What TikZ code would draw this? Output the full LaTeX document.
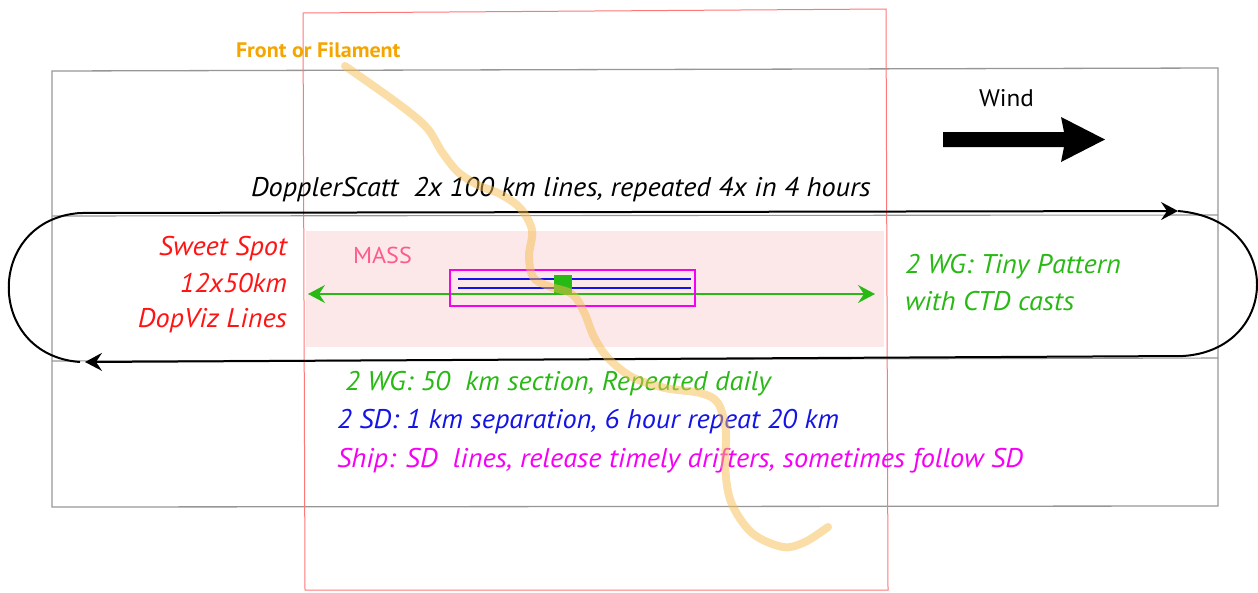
\documentclass[tikz,border=0pt]{standalone}
\usepackage{fontspec}
\setmainfont{PT Sans}[FakeStretch=1.05]
\usetikzlibrary{arrows.meta}
\definecolor{frame}{RGB}{150,150,150}
\definecolor{redframe}{RGB}{255,120,120}
\definecolor{masspink}{RGB}{252,232,232}
\definecolor{masstext}{RGB}{255,90,140}
\definecolor{wggreen}{RGB}{40,185,20}
\definecolor{sdblue}{RGB}{20,20,230}
\definecolor{shipmag}{RGB}{245,0,245}
\definecolor{ssred}{RGB}{255,20,20}
\definecolor{frontorange}{RGB}{245,165,0}
\definecolor{frontline}{RGB}{247,190,80}
\tikzset{
  lbl/.style={inner sep=0pt, outer sep=0pt, font=\fontsize{27}{30}\selectfont\itshape},
  loopline/.style={draw=black, line width=2pt},
  looptip/.style={-{Stealth[length=17pt,width=18pt,inset=6pt]}},
  wgline/.style={draw=wggreen, line width=1.6pt, {Stealth[length=17pt,width=18pt,inset=6pt]}-{Stealth[length=17pt,width=18pt,inset=6pt]}}
}
\begin{document}
\begin{tikzpicture}[x=1pt,y=-1pt]
\useasboundingbox (0,0) rectangle (1258,592);
% MASS region
\fill[masspink] (306,231) rectangle (884,347);
% gray frame
\draw[frame, line width=1.3pt] (52,71) -- (1218,68) -- (1218,506) -- (52,507) -- cycle;
\draw[frame, line width=1.1pt] (52,216) -- (1218,215);
\draw[frame, line width=1.1pt] (52,361) -- (1218,358);
% red frame
\draw[redframe, line width=1pt] (303,13) -- (886,9) -- (888,590) -- (305,590) -- cycle;
% labels
\node[lbl, font=\fontsize{21}{24}\selectfont\bfseries, text=frontorange, anchor=base west] (front) at (236,57) {Front or Filament};
\node[lbl, font=\fontsize{24}{30}\selectfont, text=black, anchor=base west] (wind) at (979,106) {Wind};
\node[lbl, font=\fontsize{23}{30}\selectfont, text=masstext, anchor=base west] (mass) at (353,263) {MASS};
\node[lbl, text=black, anchor=base west] (dopp) at (251,196) {DopplerScatt\ \ 2x 100 km lines, repeated 4x in 4 hours};
\node[lbl, text=ssred, anchor=base east] (ss1) at (287,255) {Sweet Spot};
\node[lbl, text=ssred, anchor=base east] (ss2) at (287,292) {12x50km};
\node[lbl, text=ssred, anchor=base east] (ss3) at (287,327) {DopViz Lines};
\node[lbl, text=wggreen, anchor=base west] (tiny1) at (905,273) {2 WG: Tiny Pattern};
\node[lbl, text=wggreen, anchor=base west] (tiny2) at (905,310) {with CTD casts};
\node[lbl, text=wggreen, anchor=base west] (wg) at (345,390) {2 WG: 50\ \ km section, Repeated daily};
\node[lbl, text=sdblue, anchor=base west] (sd) at (337,428) {2 SD: 1 km separation, 6 hour repeat 20 km};
\node[lbl, text=shipmag, anchor=base west] (ship) at (337,467) {Ship: SD\ \ lines, release timely drifters, sometimes follow SD};
% wind arrow
\fill[black] (943,132) -- (1064,132) -- (1061,117) -- (1105,139.5) -- (1061,162) -- (1064,147) -- (943,147) -- cycle;
% racetrack loop
\coordinate (tl) at (80,213);
\coordinate (tr) at (1178,211);
\coordinate (br) at (1183,356);
\coordinate (bl) at (85,362);
\coordinate (blarc) at (80,362);
\draw[loopline, looptip] (tl) -- (tr);
\draw[loopline] (tr) .. controls (1285,220) and (1280,350) .. (br);
\draw[loopline, looptip] (br) -- (bl);
\draw[loopline] (blarc) .. controls (-15,355) and (-15,220) .. (tl);
% green WG line
\coordinate (wgl) at (308,294);
\coordinate (wgr) at (875,294);
\draw[wgline] (wgl) -- (wgr);
% ship box and SD lines
\draw[shipmag, line width=1.8pt] (450,270) rectangle (695,306);
\draw[sdblue, line width=1.8pt] (458,279) -- (691,279);
\draw[sdblue, line width=1.8pt] (458,288) -- (691,288);
\fill[wggreen] (554,275) rectangle (572,294);
% front line
\draw[frontline, opacity=0.5, line width=8pt, line cap=round, line join=round]
  plot[smooth, tension=0.55] coordinates {(345,66) (400,105) (427,128) (442,152) (458,172) (478,185) (500,194) (520,208) (532,230) (529,256) (533,277) (548,286) (572,294) (584,312) (594,337) (608,358) (632,377) (665,388) (700,393) (718,403) (726,432) (725,465) (731,502) (752,533) (783,547) (805,542) (828,527)};
\end{tikzpicture}
\end{document}
